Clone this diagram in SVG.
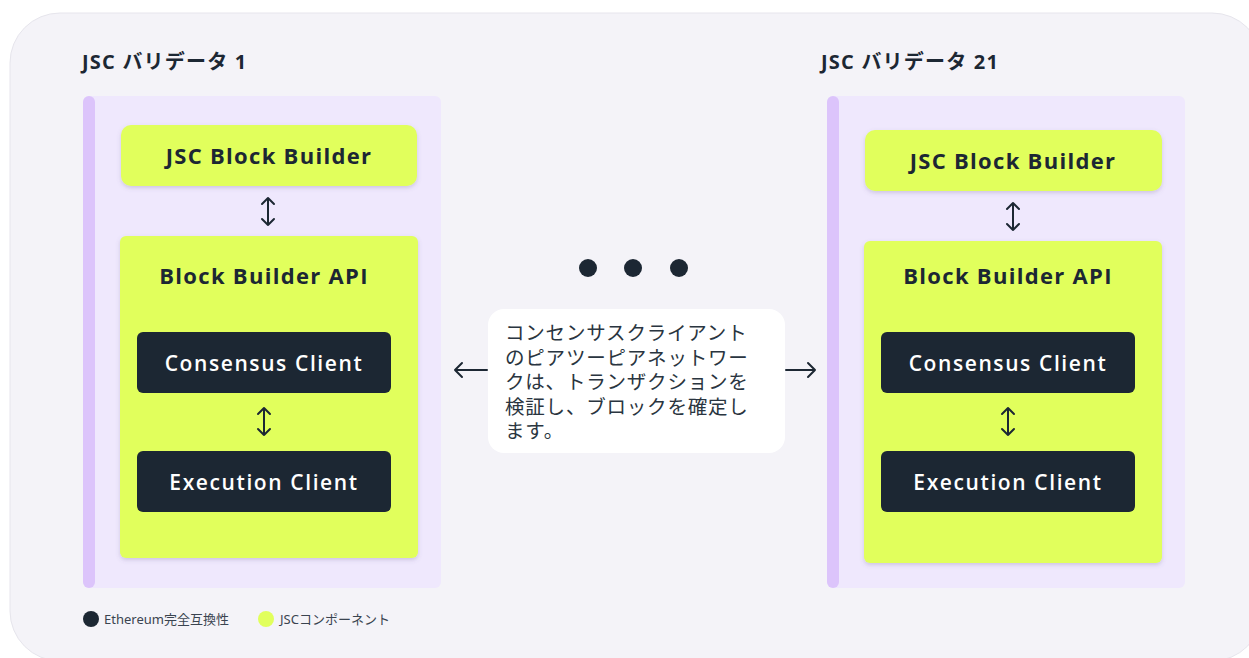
<svg xmlns="http://www.w3.org/2000/svg" width="1249" height="658" viewBox="0 0 1249 658">
<defs>
<style>
.title{font-family:"Open Sans","Noto Sans CJK JP",sans-serif;font-weight:700;font-size:20px;letter-spacing:1.2px;fill:#1c2733}
.lime{fill:#e1ff5c;filter:url(#sh)}
.dark{fill:#1c2733}
.lt{font-family:"Open Sans",sans-serif;font-weight:700;font-size:22px;letter-spacing:1.3px;fill:#1c2733;text-anchor:middle}
.dt{font-family:"Open Sans",sans-serif;font-weight:600;font-size:21px;letter-spacing:1.6px;fill:#ffffff;text-anchor:middle}
.panel{fill:#efe8fd}
.bar{fill:#dcc4fb}
.conn{fill:none;stroke:#1c2733;stroke-width:2;stroke-linecap:round;stroke-linejoin:round}
.jp{font-family:"Noto Sans CJK JP",sans-serif;font-size:19.5px;letter-spacing:0.8px;fill:#2a3540}
.leg{font-family:"Noto Sans","Noto Sans CJK JP",sans-serif;font-size:13px;fill:#3a4450}
</style>
<filter id="sh" x="-10%" y="-10%" width="120%" height="130%">
<feDropShadow dx="0" dy="2" stdDeviation="2" flood-color="#6a5a90" flood-opacity="0.25"/>
</filter>
</defs>
<rect x="10" y="13" width="1252" height="648" rx="50" fill="#f4f3f8" stroke="#e6e5ec" stroke-width="1"/>

<g id="validator1">
<text class="title" x="82" y="69">JSC バリデータ 1</text>
<rect class="panel" x="83" y="96" width="358" height="492" rx="6"/>
<rect class="bar" x="83" y="96" width="12" height="492" rx="6"/>
</g>
<g id="builder1">
<rect class="lime" x="121" y="125" width="296" height="61" rx="10"/>
<text class="lt" x="269" y="164">JSC Block Builder</text>
</g>
<g id="api1">
<rect class="lime" x="120" y="236" width="298" height="322" rx="6"/>
<text class="lt" x="264" y="284">Block Builder API</text>
</g>
<g id="consensus1">
<rect class="dark" x="137" y="332" width="254" height="61" rx="6"/>
<text class="dt" x="264" y="371">Consensus Client</text>
</g>
<g id="execution1">
<rect class="dark" x="137" y="451" width="254" height="61" rx="6"/>
<text class="dt" x="264" y="490">Execution Client</text>
</g>

<g id="validator21">
<text class="title" x="821" y="69">JSC バリデータ 21</text>
<rect class="panel" x="827" y="96" width="358" height="492" rx="6"/>
<rect class="bar" x="827" y="96" width="12" height="492" rx="6"/>
</g>
<g id="builder21">
<rect class="lime" x="865" y="130" width="297" height="61" rx="10"/>
<text class="lt" x="1013" y="169">JSC Block Builder</text>
</g>
<g id="api21">
<rect class="lime" x="864" y="241" width="298" height="322" rx="6"/>
<text class="lt" x="1008" y="284">Block Builder API</text>
</g>
<g id="consensus21">
<rect class="dark" x="881" y="332" width="254" height="61" rx="6"/>
<text class="dt" x="1008" y="371">Consensus Client</text>
</g>
<g id="execution21">
<rect class="dark" x="881" y="451" width="254" height="61" rx="6"/>
<text class="dt" x="1008" y="490">Execution Client</text>
</g>

<g id="dots">
<circle class="dark" cx="588" cy="268" r="9"/>
<circle class="dark" cx="633" cy="268" r="9"/>
<circle class="dark" cx="679" cy="268" r="9"/>
</g>

<g id="p2p-note">
<rect x="488" y="309" width="297" height="144" rx="16" fill="#ffffff"/>
<text class="jp"><tspan x="505" y="340">コンセンサスクライアント</tspan><tspan x="505" y="364.5">のピアツーピアネットワー</tspan><tspan x="505" y="389">クは、トランザクションを</tspan><tspan x="505" y="413.5">検証し、ブロックを確定し</tspan><tspan x="505" y="438">ます。</tspan></text>
</g>

<g id="connectors">
<path class="conn" d="M268 198V225M262 204L268 198L274 204M262 219L268 225L274 219"/>
<path class="conn" d="M264 408V435M258 414L264 408L270 414M258 429L264 435L270 429"/>
<path class="conn" d="M1013 203V230M1007 209L1013 203L1019 209M1007 224L1013 230L1019 224"/>
<path class="conn" d="M1008 408V435M1002 414L1008 408L1014 414M1002 429L1008 435L1014 429"/>
<path class="conn" d="M487 370H455M462 363L455 370L462 377"/>
<path class="conn" d="M786 370H815M808 363L815 370L808 377"/>
</g>

<g id="legend">
<circle class="dark" cx="91" cy="619" r="8"/>
<text class="leg" x="104" y="624">Ethereum完全互換性</text>
<circle cx="266" cy="619" r="8" fill="#e1ff5c"/>
<text class="leg" x="280" y="624">JSCコンポーネント</text>
</g>
</svg>
